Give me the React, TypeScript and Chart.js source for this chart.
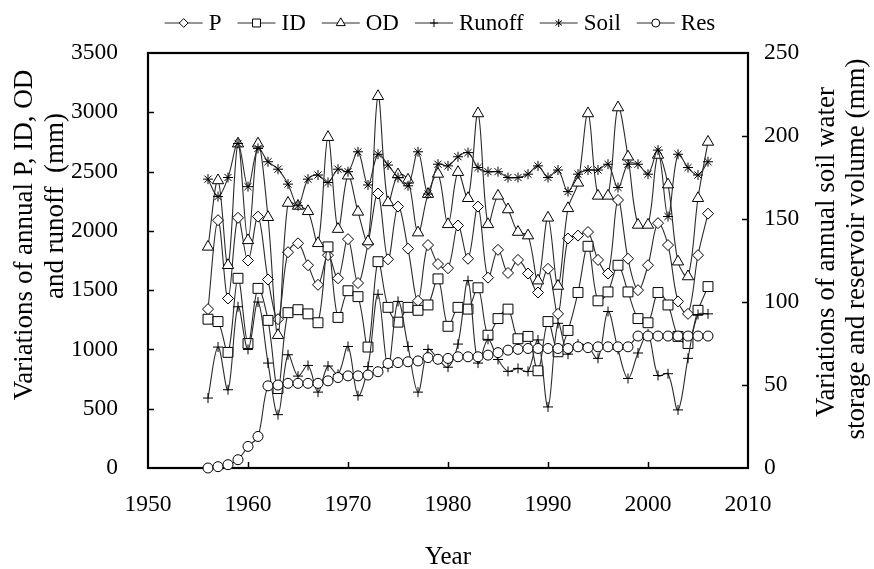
import React, { useEffect, useRef } from 'react';
import { Chart, registerables } from 'chart.js';

Chart.register(...registerables);

// Years of record
const years = [
  1956, 1957, 1958, 1959, 1960, 1961, 1962, 1963, 1964, 1965,
  1966, 1967, 1968, 1969, 1970, 1971, 1972, 1973, 1974, 1975,
  1976, 1977, 1978, 1979, 1980, 1981, 1982, 1983, 1984, 1985,
  1986, 1987, 1988, 1989, 1990, 1991, 1992, 1993, 1994, 1995,
  1996, 1997, 1998, 1999, 2000, 2001, 2002, 2003, 2004, 2005,
  2006,
];

// Annual precipitation P (mm)
const precip = [
  1340, 2090, 1430, 2110, 1750, 2120, 1590, 1255, 1820, 1895,
  1710, 1545, 1795, 1600, 1930, 1560, 1890, 2315, 1760, 2205,
  1850, 1410, 1880, 1720, 1685, 2045, 1765, 2205, 1605, 1840,
  1645, 1755, 1640, 1480, 1680, 1300, 1935, 1960, 1990, 1755,
  1640, 2260, 1765, 1500, 1710, 2065, 1880, 1405, 1300, 1795,
  2145,
];

// Irrigation demand ID (mm)
const irrigation = [
  1255, 1235, 975, 1600, 1050, 1515, 1245, 670, 1310, 1335,
  1300, 1225, 1865, 1270, 1495, 1445, 1020, 1740, 1355, 1230,
  1355, 1330, 1375, 1595, 1195, 1355, 1340, 1520, 1120, 1260,
  1340, 1090, 1110, 820, 1235, 980, 1160, 1480, 1870, 1410,
  1485, 1710, 1485, 1260, 1225, 1480, 1375, 1110, 1050, 1330,
  1530,
];

// Outflow demand OD (mm)
const outflow = [
  1865, 2425, 1710, 2735, 1920, 2735, 2115, 1120, 2235, 2210,
  2165, 1895, 2790, 2015, 2465, 2160, 1910, 3135, 2240, 2475,
  2430, 1985, 2310, 2480, 2055, 2495, 2275, 2990, 2055, 2295,
  2180, 1990, 1960, 1580, 2110, 1535, 2190, 2405, 2990, 2295,
  2295, 3040, 2625, 2050, 2050, 2640, 2390, 1740, 1615, 2275,
  2750,
];

// Runoff (mm)
const runoff = [
  590, 1020, 660, 1360, 1000, 1400, 885, 450, 955, 775,
  865, 640, 860, 790, 1025, 610, 855, 1465, 850, 1405,
  1025, 640, 1000, 920, 850, 1045, 1580, 885, 1085, 915,
  815, 840, 815, 1080, 515, 1220, 960, 1045, 1020, 925,
  1320, 1000, 755, 970, 1130, 780, 795, 490, 925, 1295,
  1300,
];

// Soil water storage (mm, right axis)
const soil = [
  174, 163.5, 175, 195.5, 169.5, 192.5, 184.5, 180, 171, 158,
  174, 176.5, 172, 180, 178.5, 190.5, 170.5, 189, 182.5, 175,
  170, 190.5, 165, 183, 182, 187.5, 190, 181, 178.5, 178.5,
  175, 175, 177, 182, 175, 179.5, 166.5, 177, 179.5, 179.5,
  183, 169, 183, 183, 177, 191.5, 151.5, 189, 181, 176.5,
  184.5,
];

// Reservoir volume (mm, right axis)
const reservoir = [
  0, 0.8, 2, 5, 13, 19, 49.5, 50, 51, 51,
  51, 51, 52.5, 54.5, 55.5, 55.5, 56, 58, 63, 63.5,
  64, 64.5, 66.5, 65.5, 66, 67, 67, 67, 68, 69.5,
  71, 71.5, 72, 72, 72, 72, 72, 73, 72.5, 73,
  73, 73, 73, 79.5, 79.5, 79.5, 79.5, 79.5, 79.5, 79.5,
  79.5,
];

const xTicks = [1950, 1960, 1970, 1980, 1990, 2000, 2010];
const leftTicks = [0, 500, 1000, 1500, 2000, 2500, 3000, 3500];
const rightTicks = [0, 50, 100, 150, 200, 250];

const SERIF = "'Liberation Serif', 'Times New Roman', serif";
const LINE = '#2a2a2a';

type Series = {
  label: string;
  values: number[];
  axis: 'y' | 'y1';
  style: 'rectRot' | 'rect' | 'triangle' | 'cross' | 'star' | 'circle';
  radius: number;
};

const series: Series[] = [
  { label: 'P', values: precip, axis: 'y', style: 'rectRot', radius: 5.5 },
  { label: 'ID', values: irrigation, axis: 'y', style: 'rect', radius: 7 },
  { label: 'OD', values: outflow, axis: 'y', style: 'triangle', radius: 6.5 },
  { label: 'Runoff', values: runoff, axis: 'y', style: 'cross', radius: 5 },
  { label: 'Soil', values: soil, axis: 'y1', style: 'star', radius: 5 },
  { label: 'Res', values: reservoir, axis: 'y1', style: 'circle', radius: 5 },
];

// Small marker painter for the legend keys
function drawMarker(ctx: CanvasRenderingContext2D, style: string, x: number, y: number, r: number) {
  ctx.beginPath();
  switch (style) {
    case 'rectRot':
      ctx.moveTo(x, y - r); ctx.lineTo(x + r, y); ctx.lineTo(x, y + r); ctx.lineTo(x - r, y); ctx.closePath();
      ctx.fill(); ctx.stroke();
      break;
    case 'rect': {
      const s = r * Math.SQRT1_2;
      ctx.rect(x - s, y - s, 2 * s, 2 * s);
      ctx.fill(); ctx.stroke();
      break;
    }
    case 'triangle':
      ctx.moveTo(x, y - r); ctx.lineTo(x + r * 0.866, y + r * 0.5); ctx.lineTo(x - r * 0.866, y + r * 0.5); ctx.closePath();
      ctx.fill(); ctx.stroke();
      break;
    case 'cross':
      ctx.moveTo(x, y - r); ctx.lineTo(x, y + r); ctx.moveTo(x - r, y); ctx.lineTo(x + r, y);
      ctx.stroke();
      break;
    case 'star':
      ctx.moveTo(x, y - r); ctx.lineTo(x, y + r);
      ctx.moveTo(x - r * 0.8, y - r * 0.6); ctx.lineTo(x + r * 0.8, y + r * 0.6);
      ctx.moveTo(x - r * 0.8, y + r * 0.6); ctx.lineTo(x + r * 0.8, y - r * 0.6);
      ctx.stroke();
      break;
    default:
      ctx.arc(x, y, r, 0, Math.PI * 2);
      ctx.fill(); ctx.stroke();
  }
}

const framePlugin = {
  id: 'frame',
  beforeDatasetsDraw(chart: any) {
    const { ctx, chartArea: a, scales } = chart;
    const tick = 6;
    ctx.save();
    ctx.strokeStyle = '#000';
    ctx.lineWidth = 1.5;
    ctx.beginPath();
    xTicks.slice(1, -1).forEach((v) => {
      const px = Math.round(scales.x.getPixelForValue(v)) + 0.5;
      ctx.moveTo(px, a.bottom); ctx.lineTo(px, a.bottom - tick);
    });
    leftTicks.slice(1, -1).forEach((v) => {
      const py = Math.round(scales.y.getPixelForValue(v)) + 0.5;
      ctx.moveTo(a.left, py); ctx.lineTo(a.left + tick, py);
    });
    rightTicks.slice(1, -1).forEach((v) => {
      const py = Math.round(scales.y1.getPixelForValue(v)) + 0.5;
      ctx.moveTo(a.right, py); ctx.lineTo(a.right - tick, py);
    });
    ctx.stroke();
    ctx.lineWidth = 2.2;
    ctx.strokeRect(a.left, a.top, a.right - a.left, a.bottom - a.top);
    ctx.restore();
  },
  afterDraw(chart: any) {
    const { ctx, chartArea: a } = chart;
    ctx.save();
    ctx.fillStyle = '#000';

    // Legend row
    ctx.font = `23px ${SERIF}`;
    ctx.textBaseline = 'middle';
    ctx.textAlign = 'left';
    const segW = 38;
    const gapText = 6;
    const gapItem = 16;
    const widths = series.map((s) => ctx.measureText(s.label).width);
    const total = widths.reduce((t, w) => t + segW + gapText + w, 0) + gapItem * (series.length - 1);
    let lx = 440 - total / 2;
    const ly = 23;
    series.forEach((s, i) => {
      ctx.strokeStyle = LINE;
      ctx.lineWidth = 1;
      ctx.beginPath();
      ctx.moveTo(lx, ly); ctx.lineTo(lx + segW, ly);
      ctx.stroke();
      ctx.fillStyle = '#fff';
      ctx.strokeStyle = '#000';
      drawMarker(ctx, s.style, lx + segW / 2, ly, s.radius * 0.8);
      ctx.fillStyle = '#000';
      ctx.fillText(s.label, lx + segW + gapText, ly + 1);
      lx += segW + gapText + widths[i] + gapItem;
    });

    // Axis titles
    ctx.textAlign = 'center';
    ctx.font = `25px ${SERIF}`;
    ctx.fillText('Year', (a.left + a.right) / 2, 557);

    ctx.font = `27px ${SERIF}`;
    const vText = (text: string, x: number, y: number) => {
      ctx.save();
      ctx.translate(x, y);
      ctx.rotate(-Math.PI / 2);
      ctx.fillText(text, 0, 0);
      ctx.restore();
    };
    vText('Variations of annual P, ID, OD', 25, 235);
    vText('and runoff  (mm)', 56, 206);
    vText('Variations of annual soil water', 827, 252);
    vText('storage and reservoir volume (mm)', 857, 249);
    ctx.restore();
  },
};

export default function App() {
  const ref = useRef<HTMLCanvasElement | null>(null);

  useEffect(() => {
    if (!ref.current) return;
    const tickFont = { family: SERIF, size: 23.5 };
    const chart = new Chart(ref.current, {
      type: 'line',
      data: {
        datasets: series.map((s, i) => ({
          label: s.label,
          data: years.map((yr, k) => ({ x: yr, y: s.values[k] })),
          yAxisID: s.axis,
          borderColor: LINE,
          borderWidth: 1.1,
          tension: 0.35,
          pointStyle: s.style,
          pointRadius: s.radius,
          pointBorderWidth: 1,
          pointBorderColor: '#000',
          pointBackgroundColor: '#fff',
          fill: false,
          clip: false,
          order: series.length - i,
        })),
      },
      options: {
        responsive: false,
        animation: false,
        devicePixelRatio: 1,
        layout: { padding: { top: 53, left: 0, right: 0, bottom: 0 } },
        plugins: {
          legend: { display: false },
          tooltip: { enabled: false },
        },
        scales: {
          x: {
            type: 'linear',
            min: 1950,
            max: 2010,
            afterBuildTicks: (s: any) => { s.ticks = xTicks.map((v) => ({ value: v })); },
            ticks: { font: tickFont, color: '#000', padding: 23, callback: (v: any) => String(v) },
            grid: { display: false, drawTicks: false },
            border: { display: false },
            afterFit: (s: any) => { s.height = 101; },
          },
          y: {
            type: 'linear',
            position: 'left',
            min: 0,
            max: 3500,
            afterBuildTicks: (s: any) => { s.ticks = leftTicks.map((v) => ({ value: v })); },
            ticks: { font: tickFont, color: '#000', padding: 30, callback: (v: any) => String(v) },
            grid: { display: false, drawTicks: false },
            border: { display: false },
            afterFit: (s: any) => { s.width = 148; },
          },
          y1: {
            type: 'linear',
            position: 'right',
            min: 0,
            max: 250,
            afterBuildTicks: (s: any) => { s.ticks = rightTicks.map((v) => ({ value: v })); },
            ticks: { font: tickFont, color: '#000', padding: 16, callback: (v: any) => String(v) },
            grid: { display: false, drawTicks: false },
            border: { display: false },
            afterFit: (s: any) => { s.width = 126; },
          },
        },
      },
      plugins: [framePlugin],
    } as any);
    return () => chart.destroy();
  }, []);

  return (
    <div style={{ position: 'fixed', left: 0, top: 0, width: 874, height: 569, background: '#fff' }}>
      <canvas ref={ref} width={874} height={569} style={{ width: 874, height: 569, display: 'block' }} />
    </div>
  );
}
